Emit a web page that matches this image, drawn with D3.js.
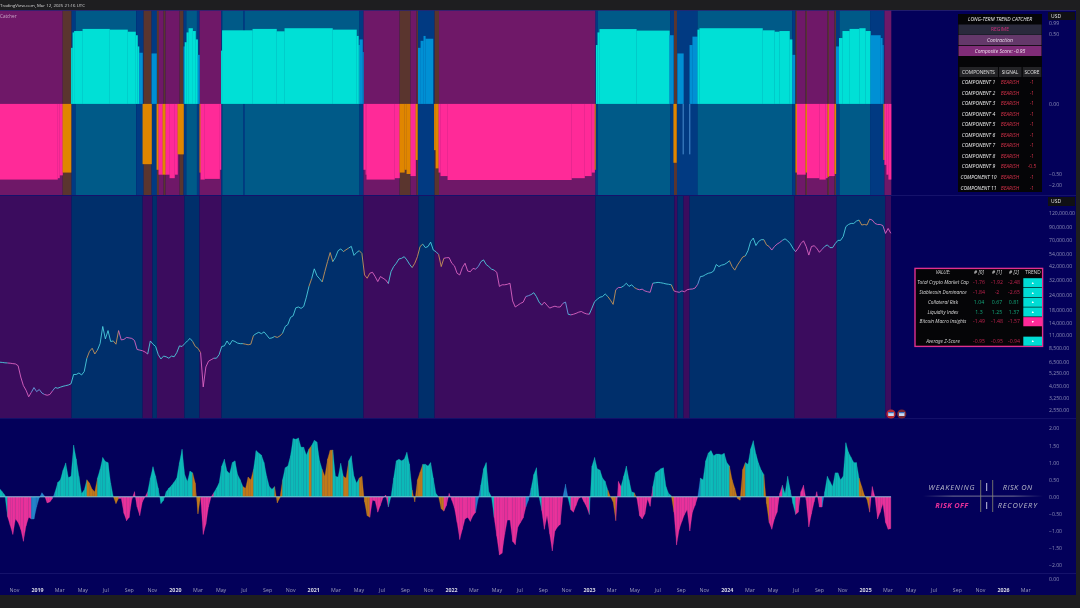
<!DOCTYPE html>
<html><head><meta charset="utf-8">
<script src="https://cdnjs.cloudflare.com/ajax/libs/d3/7.9.0/d3.min.js"></script>
<style>html,body{margin:0;padding:0;background:#1e1e20;overflow:hidden}svg{display:block;filter:blur(.3px)}text{font-family:"Open Sans",sans-serif}</style>
</head><body><svg id="c" width="1080" height="608"></svg>
<script>
// weekly series, week 0 = 2018-09-24
const btcPrice=[6480,6450,6400,6380,6350,6300,6260,6050,4850,4100,3750,3300,3600,3950,3650,3800,3550,3450,3400,3450,3700,3950,3900,3980,4050,4100,4150,4250,5100,5100,5250,5050,5400,7000,8000,8500,7600,8200,9300,13000,10200,12000,9700,9800,9200,12000,10000,10100,10500,10400,10300,9900,8300,8200,8100,7900,7600,9800,9200,8800,7500,6900,7300,7200,7000,7300,7200,7800,8900,8800,9300,9800,10300,9700,8800,8500,7800,4000,5900,6600,6800,7000,7000,7500,8800,8900,9800,9100,9900,9700,9400,9300,9300,9200,9100,9200,10900,11300,11600,11300,11700,11000,10300,10400,10700,10500,10800,11400,13000,13500,15500,16000,18700,19000,18500,19200,23000,28500,33000,40000,35000,33000,31000,38000,46000,55000,46000,50000,57000,59000,56000,58000,60000,62000,52000,55000,57000,54000,35500,33300,36700,37400,34400,31200,34400,33300,32200,30000,37800,41800,44600,48500,49100,50700,47600,43800,41000,44600,50700,61800,64800,60500,61800,67300,57700,55900,53000,41800,49100,49700,49700,44600,42400,36700,35500,41000,44600,38300,37800,40300,39800,41800,46000,47600,43500,41800,39800,39000,37400,28400,29300,29300,29600,30200,21400,19000,19700,20400,20900,23300,23700,24200,25100,23300,20900,19700,20900,19700,18600,19000,19300,19000,19000,20400,20900,16500,16300,16500,16800,17200,17400,16900,16600,16500,18600,21100,22100,23000,23300,24500,23300,21700,20000,26600,27800,27800,28700,30200,28400,29300,27800,27000,26600,26900,26000,25600,25300,30200,30500,30700,30500,30200,29800,29600,29300,26000,25600,25300,26000,25600,26600,26900,27000,27500,29600,34400,34700,35800,36700,37100,38300,43500,41800,43000,43500,44900,46800,41800,39000,43000,46500,50400,51500,57000,68200,72900,63000,68200,70600,70600,63800,61800,57700,61800,64800,66900,69700,71800,69100,65300,59800,55900,59800,65500,69100,61800,52300,61800,62800,59800,55200,58500,61800,63800,60500,60500,65500,69700,69700,75100,91000,95000,97000,97000,101500,103500,94000,95000,94000,105500,103500,97000,95000,95000,93000,79800,87900,80000];
const oscillator=[.24,.15,.05,-.58,-.83,-1.1,-.65,-.75,-.95,-1.3,-.85,-.6,-.65,-.65,-.3,-.03,.12,.02,-.18,-.15,-.05,.15,.42,.5,.78,.99,.56,.6,1.51,1.1,.6,.1,.2,.5,.4,.22,.15,.55,.8,1.15,1.03,1,.4,0,-.2,-.05,-.05,-.48,-.7,-.6,-.08,.15,-.3,-.55,-.15,0,.15,.55,.88,.6,.25,-.2,-.1,.15,.25,.33,.43,.55,1,1.39,.65,.45,.75,.7,.4,-.5,0,-1.1,-.8,-.3,0,.12,.25,.4,.9,1.1,.75,.68,1,1.05,.65,.5,.3,.25,.58,.5,.8,1.35,1.28,1.22,1,.6,.3,.22,.3,-.18,-.03,.5,.85,.9,1.2,1.7,1.68,1.72,1.45,1.45,1.22,1.4,1.5,1.65,1.6,1.05,.8,.6,1.1,1.36,1.37,.6,.58,.98,.6,.55,1.05,1.2,.6,.4,.55,.6,-.15,-.55,-.6,-.1,-.12,-.45,-.25,-.03,.05,-.3,0,.55,1.05,1.1,1.05,1.1,1.3,.95,.2,-.15,.5,.72,.95,.95,.9,1,.55,.1,0,-.35,-.42,-.25,.1,-.1,-.33,-.75,-1.25,-.95,-.65,-.6,-.72,-.55,-.45,-.05,.35,.82,1,.15,0,-.6,-1.15,-1.7,-1.65,-1.1,-.68,-.68,-1.3,-1.4,-.88,-.75,-.62,-.3,-.1,.25,.65,.85,0,-.4,-.95,-.55,-1.08,-1.58,-1,-.88,-.8,0,.37,-.05,-.38,-.45,-.25,-.05,0,-.15,-.3,-.52,.9,1.15,.82,.78,.55,.45,.2,0,-.15,-.7,.45,.3,.6,.9,.5,.15,.12,-.05,-.55,-.65,-.5,-.07,-.28,.3,.7,.75,.82,.85,.3,.1,.03,-.45,-1.41,-.95,-.72,-.52,-.38,-1,-.45,-.25,0,.55,.5,1.05,1.28,1.35,1.2,1.25,1.25,1.23,1.27,1,.9,.5,.25,-.05,-.1,.8,1,.95,1.4,1.64,1.25,.98,.78,.65,-.2,-.75,-.95,-.65,-.45,.1,.34,.1,.6,.2,-.2,-.52,-.45,.15,.34,-.1,-.88,-.5,-.15,.15,-.3,-.3,.15,.6,.45,.3,.7,.7,.5,.6,1.58,1.3,1.15,1,1,.55,.3,.05,-.08,-.45,.3,0,-.65,-.45,-.2,-.75,-.95,-.93];
const oscStateWeek=[0,4,13,18,21,22,34,38,44,46,57,74,77,82,93,97,105,108,118,119,123,127,131,133,137,141,148,157,161,167,169,181,183,188,200,202,206,214,216,217,224,231,234,236,241,242,248,255,256,265,266,277,283,290,292,297,302,312,313,326,330];
const oscStateName="CPBPBCOCOPCOPCOCOCOCOCOCOPCOCOPBCPBCPBCPCOPCOPCOPBCOCOPCPBCOP".split("");
const regimeEdges=[0,27.2,54.1,57.8,59.5,69.9,75.6,83.9,137.6,158.4,164.5,225.3,255.2,256.3,258.6,260.9,300.6,316.5,334.9,337.1];
const topBgEdges=[0,23.82,27.22,28.73,51.68,54.44,57.47,59.47,60.23,62,62.76,68.05,69.57,70.59,74.59,75.61,83.82,84.2,92.25,92.74,136.1,137.62,151.23,155.39,157.66,158.22,164.46,166.16,225.33,226.28,253.69,255.01,256.14,263.89,299.7,300.95,301.51,304.73,305.29,313.04,313.61,315.69,316.26,317.58,329.3,334.6,337.13];
const topBgState="pbntnbnbpbpbntnpntntnpbpbnbpntnbntnbpbpbpbntnp".split("");
const topBands=[[0,21.93,"P",-.54],[21.93,22.68,"P",-.53],[22.68,23.82,"P",-.51],[23.82,27.03,"O",-.49],[27.03,27.6,"C",.4],[27.6,28.17,"C",.51],[28.17,31.38,"C",.52],[31.38,41.59,"C",.535],[41.59,48.39,"C",.53],[48.39,51.42,"C",.515],[51.42,52.17,"C",.49],[52.17,52.74,"C",.41],[52.74,54.06,"B",.365],[54.06,57.47,"O",-.43],[57.47,59.36,"B",.36],[59.36,60.1,"O",-.47],[60.1,61.63,"P",-.505],[61.63,62.76,"O",-.505],[62.76,64.27,"P",-.505],[64.27,66.16,"P",-.53],[66.16,67.3,"P",-.505],[67.3,69.57,"O",-.36],[69.57,70,"B",.41],[70,70.7,"C",.44],[70.7,71.46,"C",.51],[71.46,73,"C",.54],[73,74.1,"C",.52],[74.1,74.9,"C",.46],[74.9,75.6,"B",.35],[75.6,76,"O",-.49],[76,77.5,"P",-.54],[77.5,83.2,"P",-.535],[83.2,83.74,"P",-.47],[83.74,84.13,"C",.38],[84.13,95.65,"C",.525],[95.65,104.73,"C",.535],[104.73,107.75,"C",.518],[107.75,125.9,"C",.54],[125.9,134.97,"C",.53],[134.97,135.7,"C",.485],[135.7,136.1,"C",.42],[136.1,137.24,"B",.46],[137.24,137.6,"B",.37],[137.62,138.4,"P",-.47],[138.4,138.75,"P",-.505],[138.75,149.34,"P",-.54],[149.34,151.23,"P",-.53],[151.23,153.1,"O",-.49],[153.1,153.9,"O",-.47],[153.9,155.39,"O",-.5],[155.39,157.3,"P",-.515],[157.3,158,"O",-.4],[158.22,159.2,"B",.4],[159.2,160.3,"B",.45],[160.3,161,"B",.485],[161,163.9,"B",.465],[164.3,164.9,"O",-.33],[164.9,166,"O",-.46],[166,166.73,"P",-.49],[166.73,169.4,"P",-.515],[169.4,216.25,"P",-.543],[216.25,221.2,"P",-.53],[221.2,223.8,"P",-.515],[223.8,225,"P",-.49],[225,225.33,"O",-.47],[225.5,226.1,"C",.42],[226.1,226.85,"C",.51],[226.85,240.8,"C",.534],[240.8,253.3,"C",.523],[253.3,254.8,"B",.49],[254.8,255.96,"O",-.42],[256.3,258.6,"B",.36],[258.3,258.6,"B",-.36],[260.8,261.1,"B",-.36],[260.9,262,"B",.42],[262,263.9,"B",.48],[263.9,264.65,"C",.53],[264.65,288.5,"C",.54],[288.5,293,"C",.525],[293,294.9,"C",.515],[294.9,298.7,"C",.52],[298.7,299.7,"C",.46],[299.7,300.76,"B",.35],[300.95,301.51,"O",-.49],[301.51,304.73,"P",-.505],[304.73,305.29,"O",-.49],[305.29,310,"P",-.53],[310,312.3,"P",-.54],[312.3,313.04,"P",-.53],[313.04,313.61,"O",-.52],[313.61,315.69,"P",-.515],[315.69,316.26,"O",-.5],[316.26,317.4,"B",.41],[317.4,318.73,"C",.47],[318.73,321.4,"C",.52],[321.4,325.1,"C",.535],[325.1,327.4,"C",.54],[327.4,329.3,"C",.52],[329.3,333.1,"B",.49],[333.1,333.8,"B",.47],[333.8,334.2,"B",.42],[334.2,334.6,"O",-.4],[334.6,335.35,"P",-.435],[335.35,336.1,"P",-.505],[336.1,337.13,"P",-.54]];
const priceTicks=[120000,90000,70000,54000,42000,32000,24000,18000,14000,11000,8500,6500,5250,4050,3250,2550];
const oscTicks=[2,1.5,1,.5,0,-.5,-1,-1.5,-2];
const topTicks=[.5,0,-.5];
const componentNames=["COMPONENT 1","COMPONENT 2","COMPONENT 3","COMPONENT 4","COMPONENT 5","COMPONENT 6","COMPONENT 7","COMPONENT 8","COMPONENT 9","COMPONENT 10","COMPONENT 11"];
const componentScores=["-1","-1","-1","-1","-1","-1","-1","-1","-0.5","-1","-1"];
const zNames=["Total Crypto Market Cap","Stablecoin Dominance","Collateral Risk","Liquidity Index","Bitcoin Macro Insights","","Average Z-Score"];
const z0=[-1.76,-1.84,1.04,1.3,-1.49,null,-0.95];
const z1=[-1.92,-2,.67,1.25,-1.48,null,-0.95];
const z2=[-2.48,-2.65,.81,1.37,-1.57,null,-0.94];
const zTrend=["u","u","u","u","d","","u"];

const svg=d3.select("#c");
const week0=Date.UTC(2018,8,24), wk=i=>new Date(week0+i*6048e5);
const x=d3.scaleUtc().domain([new Date(Date.UTC(2019,0,1)),new Date(Date.UTC(2026,0,1))]).range([37,1003]);
const X=i=>x(wk(i));
const yTop=d3.scaleLinear().domain([-.65,.67]).range([195,10]);
const yPrice=d3.scaleLog().domain([2550,120000]).range([410,212.5]);
const yOsc=d3.scaleLinear().domain([-2,2]).range([565.3,428.3]);
const fillCol={C:"#00e0d6",B:"#0090d4",P:"#ff2a98",O:"#e08600"};
const bgCol={p:"#6f1868",t:"#005a88",n:"#013a82",b:"#5a352e"};
const oscCol={C:"#0bbab8",B:"#1f80c8",P:"#e8309a",O:"#c07818"};
const lineCol={C:"#4fd6e4",B:"#6aa8e8",P:"#e468c8",O:"#cf9a58"};
const stateAt=i=>oscStateName[d3.bisectRight(oscStateWeek,i)-1];

// frame
const base="#03005a";
svg.append("rect").attr("width",1080).attr("height",608).attr("fill","#1e1e20");
svg.append("rect").attr("x",0).attr("y",10).attr("width",1076).attr("height",585).attr("fill",base);

// top pane
const pairs=e=>d3.pairs(e);
svg.append("g").selectAll("rect").data(pairs(topBgEdges)).join("rect")
 .attr("x",d=>X(d[0])).attr("width",d=>X(d[1])-X(d[0])+.15).attr("y",10).attr("height",185)
 .attr("fill",(d,i)=>bgCol[topBgState[i]]);
svg.append("g").selectAll("rect").data(topBands).join("rect")
 .attr("x",d=>X(d[0])).attr("width",d=>X(d[1])-X(d[0])+.2)
 .attr("y",d=>Math.min(yTop(d[3]),yTop(0))).attr("height",d=>Math.abs(yTop(d[3])-yTop(0)))
 .attr("fill",d=>d[3]<0&&d[1]-d[0]<.4&&d[2]==="B"?"#4a8ed0":fillCol[d[2]]);
svg.append("rect").attr("x",0).attr("y",10).attr("width",1076).attr("height",.8).attr("fill","#2a2470");

// mid pane
svg.append("g").selectAll("rect").data(pairs(regimeEdges)).join("rect")
 .attr("x",d=>X(d[0])).attr("width",d=>X(d[1])-X(d[0])).attr("y",196).attr("height",222)
 .attr("fill",(d,i)=>i%2?"#002f6b":"#3b0c5e");
const line=d3.line().x(d=>X(d[0])).y(d=>yPrice(d[1]));
svg.append("g").attr("fill","none").attr("stroke-width",.85).selectAll("path")
 .data(d3.pairs(btcPrice.map((v,i)=>[i,v]))).join("path")
 .attr("d",d=>line(d)).attr("stroke",d=>lineCol[stateAt(d[1][0])]);

// oscillator
const area=d3.area().x(d=>X(d[0])).y0(yOsc(0)).y1(d=>yOsc(d[1]));
svg.append("g").selectAll("path").data(d3.pairs(oscillator.map((v,i)=>[i,v]))).join("path")
 .attr("d",d=>area(d)).attr("fill",d=>oscCol[stateAt(d[1][0])]).attr("stroke",d=>oscCol[stateAt(d[1][0])]).attr("stroke-width",.25);
svg.append("g").selectAll("line").data(oscillator).join("line")
 .attr("x1",(d,i)=>X(i)).attr("x2",(d,i)=>X(i)).attr("y1",yOsc(0)).attr("y2",d=>yOsc(d))
 .attr("stroke","#fff").attr("stroke-width",.45).attr("opacity",.12);
svg.append("line").attr("x1",0).attr("x2",X(337.1)).attr("y1",yOsc(0)).attr("y2",yOsc(0)).attr("stroke","#8fe0e8").attr("stroke-width",.8);
[195.5,418.6,573.5].forEach(y=>svg.append("line").attr("x1",0).attr("x2",1076).attr("y1",y).attr("y2",y).attr("stroke","#1a1770").attr("stroke-width",.8));

// axes
const axisStyle=g=>{g.select(".domain").remove();g.selectAll("line").remove();g.selectAll("text").attr("fill","#8f8fb8").attr("font-size",5.1).attr("x",1).attr("dy","0.32em");};
svg.append("g").attr("transform","translate(1048,0)").call(d3.axisRight(yPrice).tickValues(priceTicks).tickFormat(d3.format(",.2f")).tickSize(0)).call(axisStyle);
svg.append("g").attr("transform","translate(1048,0)").call(d3.axisRight(yOsc).tickValues(oscTicks).tickFormat(d=>d3.format(".2f")(d).replace("-","−")).tickSize(0)).call(axisStyle);
svg.append("g").attr("transform","translate(1048,0)").call(d3.axisRight(yTop).tickValues(topTicks).tickFormat(d=>d3.format(".2f")(d).replace("-","−")).tickSize(0)).call(axisStyle);
const txt=(t,xx,yy,o={})=>svg.append("text").text(t).attr("x",xx).attr("y",yy).attr("dy","0.34em").attr("text-anchor",o.a||"middle").attr("font-size",o.s||5).attr("fill",o.c||"#fff").attr("font-style",o.i?"italic":null).attr("font-weight",o.w||null).attr("font-family",o.f||null).attr("letter-spacing",o.ls||null);
txt("−2.00",1049,185.7,{a:"start",s:5.1,c:"#8f8fb8"});
txt("0.00",1049,579,{a:"start",s:5.1,c:"#8f8fb8"});
txt("0.99",1049,23.2,{a:"start",s:5.1,c:"#8f8fb8"});
const months=d3.utcMonth.range(new Date(Date.UTC(2018,10,1)),new Date(Date.UTC(2026,3,1)),2);
const xa=svg.append("g").attr("transform","translate(0,590)").call(d3.axisBottom(x).tickValues(months).tickSize(0).tickFormat(d=>d.getUTCMonth()===0?d.getUTCFullYear():d3.utcFormat("%b")(d)));
xa.select(".domain").remove();
xa.selectAll("text").attr("y",0).attr("dy","0.34em").attr("font-size",5.3).attr("fill",d=>d.getUTCMonth()===0?"#d8d8e4":"#9a9ab8").attr("font-weight",d=>d.getUTCMonth()===0?700:null);

// header
svg.append("rect").attr("width",1080).attr("height",10).attr("fill","#1e1e20");
txt("TradingView.com, Mar 12, 2025 21:16 UTC",0,5.6,{a:"start",s:4.35,c:"#d8d8d8"});
txt("Catcher",0,16,{a:"start",s:4.6,c:"#c9a8c8"});
[[13,19],[198,205]].forEach(r=>{svg.append("rect").attr("x",1048).attr("y",r[0]-1).attr("width",27).attr("height",r[1]-r[0]+2).attr("fill","#101014");txt("USD",1051,(r[0]+r[1])/2,{a:"start",s:5,c:"#e4e4e4"});});

// long-term table
const rect=(xx,yy,w,h,c)=>svg.append("rect").attr("x",xx).attr("y",yy).attr("width",w).attr("height",h).attr("fill",c);
rect(958,14,84,178,"#050507");
txt("LONG-TERM TREND CATCHER",1000,19,{s:5,i:1,c:"#eee"});
rect(958.5,24.5,83,10.2,"#2a2a3c");txt("REGIME",1000,29.5,{s:5,c:"#d0307c"});
rect(958.5,35,83,10.2,"#64386a");txt("Contraction",1000,40,{s:5,i:1,c:"#eadcea"});
rect(958.5,46,83,10,"#802c78");txt("Composite Score: -0.95",1000,50.8,{s:5,i:1,c:"#f0e4f0"});
[[959.5,38.5,"COMPONENTS",978.5],[999,22.5,"SIGNAL",1010],[1022.8,18.5,"SCORE",1032]].forEach(c=>{rect(c[0],67,c[1],10,"#232326");txt(c[2],c[3],72,{s:4.8,c:"#e2e2e2"});});
componentNames.forEach((n,i)=>{const y=82.3+i*10.56;txt(n,978.5,y,{s:5,i:1,c:"#f2f2f2"});txt("BEARISH",1010,y,{s:5,i:1,c:"#d8324a"});txt(componentScores[i],1032,y,{s:5,c:"#d8324a"});});

// z-score table
svg.append("rect").attr("x",915).attr("y",268.4).attr("width",127.6).attr("height",78).attr("fill","#050507").attr("stroke","#e0308e").attr("stroke-width",1.4);
const zy=i=>282.7+i*9.74;
txt("VALUE:",943,272.7,{s:4.8,i:1,c:"#ddd"});
[["# [0]",979],["# [1]",997],["# [2]",1014],["TREND",1033]].forEach(h=>txt(h[0],h[1],272.7,{s:4.8,i:h[0]!=="TREND",c:"#ddd"}));
const zc=v=>v<0?"#c0234e":"#14a87c";
zNames.forEach((n,i)=>{
 txt(n,943,zy(i),{s:4.8,i:1,c:"#ddd"});
 [[z0,979],[z1,997],[z2,1014]].forEach(c=>{if(c[0][i]!==null)txt(String(c[0][i]),c[1],zy(i),{s:5.2,c:zc(c[0][i])});});
 if(zTrend[i]){rect(1023.3,zy(i)-4.5,18.7,9.1,zTrend[i]==="u"?"#00dcd4":"#ff2a98");
  txt(zTrend[i]==="u"?"▲":"▼",1032.7,zy(i),{s:3.6,c:"#fff"});}
});

// quadrant legend
const defs=svg.append("defs").append("linearGradient").attr("id","fade");
[[0,0],[.25,.75],[.75,.75],[1,0]].forEach(s=>defs.append("stop").attr("offset",s[0]).attr("stop-color","#9a9aa8").attr("stop-opacity",s[1]));
svg.append("rect").attr("x",923).attr("y",495.6).attr("width",120).attr("height",1).attr("fill","url(#fade)");
[980.7,992.7].forEach(v=>svg.append("line").attr("x1",v).attr("x2",v).attr("y1",480).attr("y2",512).attr("stroke","#8a8a70").attr("stroke-width",.8));
[[483,491],[502,509]].forEach(r=>svg.append("line").attr("x1",986.7).attr("x2",986.7).attr("y1",r[0]).attr("y2",r[1]).attr("stroke","#d8d8f0").attr("stroke-width",.9));
const ser="'Liberation Serif',serif";
txt("WEAKENING",952,487.2,{s:7.4,i:1,c:"#b8b8c8",f:ser,ls:.8});
txt("RISK ON",1017.7,487.2,{s:7.4,i:1,c:"#b8b8c8",f:ser,ls:.5});
txt("RISK OFF",952,505,{s:7.4,i:1,c:"#e8309a",f:ser,w:700,ls:.35});
txt("RECOVERY",1017.7,505,{s:7.4,i:1,c:"#b8b8c8",f:ser,ls:.8});

// flags
[[891,"#b82a30"],[901.7,"#7a2430"]].forEach(f=>{
 svg.append("circle").attr("cx",f[0]).attr("cy",414).attr("r",4.6).attr("fill",f[1]);
 rect(f[0]-2.8,412,5.6,4,"#c8d8ee");rect(f[0]-2.8,412,5.6,1.2,"#3a70c0");
});
</script></body></html>
